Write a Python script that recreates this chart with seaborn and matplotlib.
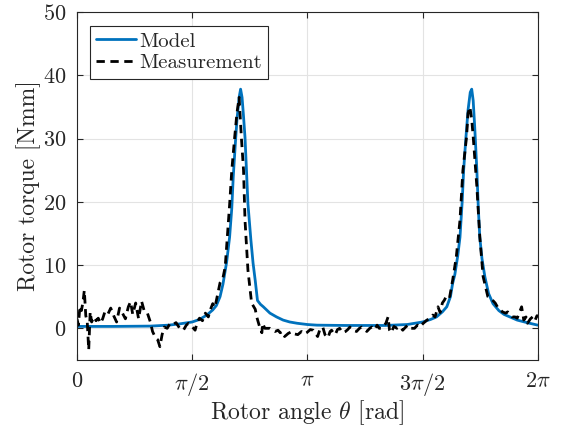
import numpy as np
import pandas as pd
import matplotlib
matplotlib.use("Agg")
import matplotlib.pyplot as plt
import seaborn as sns

# ── Model (smooth) ──
model_theta = [0.00, 0.50, 1.00, 1.25, 1.40, 1.57, 1.67, 1.77, 1.85, 1.90,
               1.95, 1.99, 2.04, 2.08, 2.11, 2.13, 2.16, 2.18, 2.21, 2.23,
               2.25, 2.27, 2.29, 2.31, 2.33, 2.37, 2.40, 2.43, 2.46, 2.50,
               2.54, 2.63, 2.72, 2.81, 2.90, 3.00, 3.14, 3.27, 3.66, 4.20,
               4.50, 4.71, 4.82, 4.90, 4.98, 5.04, 5.09, 5.12, 5.15, 5.19,
               5.22, 5.25, 5.27, 5.30, 5.33, 5.36, 5.38, 5.40, 5.42, 5.45,
               5.47, 5.49, 5.52, 5.56, 5.61, 5.67, 5.75, 5.82, 5.90, 6.00,
               6.10, 6.17, 6.28]
model_torque = [0.3, 0.3, 0.35, 0.5, 0.7, 1.0, 1.4, 2.1, 2.9, 3.6,
                5.0, 7.0, 10.5, 14.4, 19.0, 24.0, 29.5, 32.9, 36.5, 37.8,
                36.5, 33.5, 30.2, 25.0, 19.7, 14.0, 10.3, 7.5, 4.4, 3.8,
                3.4, 2.4, 1.8, 1.3, 1.0, 0.8, 0.6, 0.5, 0.45, 0.45,
                0.6, 1.0, 1.4, 1.8, 2.6, 3.4, 5.0, 7.1, 8.5, 11.5,
                14.4, 20.0, 25.0, 30.0, 34.5, 37.3, 37.8, 36.0, 32.0, 25.0,
                19.0, 14.4, 11.0, 8.1, 5.5, 3.9, 2.8, 2.2, 1.8, 1.3,
                1.0, 0.8, 0.5]

# ── Measurement (noisy) ──
meas_theta = [0.00, 0.02, 0.04, 0.06, 0.08, 0.10, 0.12, 0.14, 0.16, 0.18,
              0.20, 0.23, 0.26, 0.29, 0.32, 0.35, 0.38, 0.42, 0.46, 0.50,
              0.54, 0.58, 0.62, 0.66, 0.70, 0.73, 0.76, 0.80, 0.84, 0.88,
              0.92, 0.96, 1.00, 1.03, 1.07, 1.10, 1.13, 1.16, 1.19, 1.23,
              1.27, 1.31, 1.35, 1.40, 1.45, 1.49, 1.52, 1.56, 1.61, 1.64,
              1.67, 1.71, 1.75, 1.79, 1.82, 1.85, 1.88, 1.91, 1.95, 1.99,
              2.02, 2.05, 2.08, 2.11, 2.15, 2.18, 2.21, 2.24, 2.27, 2.29,
              2.33, 2.38, 2.43, 2.45, 2.49, 2.52, 2.53, 2.56, 2.60, 2.63,
              2.67, 2.70, 2.74, 2.77, 2.80, 2.83, 2.88, 2.93, 2.97, 3.01,
              3.06, 3.10, 3.13, 3.18, 3.22, 3.25, 3.28, 3.31, 3.35, 3.38,
              3.42, 3.45, 3.47, 3.50, 3.52, 3.55, 3.58, 3.62, 3.66, 3.69,
              3.72, 3.76, 3.81, 3.85, 3.88, 3.92, 3.95, 3.99, 4.02, 4.06,
              4.09, 4.12, 4.15, 4.19, 4.21, 4.24, 4.26, 4.28, 4.32, 4.36,
              4.40, 4.44, 4.48, 4.51, 4.55, 4.60, 4.64, 4.67, 4.72, 4.77,
              4.81, 4.85, 4.88, 4.92, 4.95, 4.98, 5.01, 5.04, 5.08, 5.12,
              5.17, 5.22, 5.26, 5.31, 5.33, 5.355, 5.38, 5.40, 5.45, 5.49,
              5.535, 5.60, 5.66, 5.70, 5.74, 5.80, 5.84, 5.87, 5.93, 5.97,
              6.00, 6.06, 6.09, 6.12, 6.14, 6.18, 6.21, 6.24, 6.27, 6.28]
meas_torque = [1.5, 0.5, 3.5, 2.8, 4.0, 6.0, 2.0, 1.0, -3.4, 2.6,
               1.0, 1.8, 1.2, 1.6, 0.8, 1.5, 2.6, 2.2, 3.2, 2.0,
               1.0, 3.2, 2.4, 1.5, 3.4, 4.2, 2.2, 4.0, 1.5, 4.3,
               2.6, 2.4, 1.0, -0.5, -1.5, -1.8, -2.9, -1.0, 0.2, 0.0,
               0.8, 0.6, 0.9, 0.0, -0.3, 0.5, 0.8, 0.4, -0.3, 1.0,
               1.6, 1.2, 2.4, 1.8, 3.0, 3.9, 3.3, 5.0, 7.2, 8.0,
               9.7, 14.5, 19.5, 25.0, 30.3, 34.0, 36.5, 30.3, 25.0, 17.1,
               9.2, 4.0, 3.0, 1.8, 0.2, -0.7, 0.8, 0.0, 0.0, 0.0,
               -0.3, -0.5, -0.3, -0.7, -0.5, -1.3, -0.8, -0.5, -0.9, -1.0,
               -0.5, -0.9, -0.7, -0.2, -0.3, -0.8, -1.3, -0.2, 0.2, -1.0,
               -1.5, -0.5, -0.3, -0.8, -1.0, -0.2, 0.0, -0.7, -0.5, -0.2,
               0.2, -0.3, -0.5, 0.0, 0.2, -0.2, -0.5, 0.0, 0.2, -0.2,
               0.5, 0.0, 0.0, 0.5, 0.8, 1.8, -0.3, -0.7, 0.3, 0.0,
               0.3, -0.3, 0.2, 0.5, 0.0, 0.0, 0.5, 0.2, 0.8, 1.3,
               1.6, 2.1, 1.8, 3.4, 2.5, 4.0, 4.5, 5.3, 5.0, 7.6,
               11.3, 17.1, 25.0, 30.3, 34.0, 35.0, 33.0, 30.3, 22.4, 14.5,
               8.2, 5.0, 4.5, 4.0, 3.2, 2.6, 2.4, 2.6, 1.8, 1.8,
               1.6, 3.4, 1.3, 1.8, 0.8, 1.5, 1.8, 1.2, 2.0, 1.8]

xtick_vals = [0, np.pi / 2, np.pi, 3 * np.pi / 2, 2 * np.pi]
xtick_labels = ["$0$", r"$\pi/2$", r"$\pi$", r"$3\pi/2$", r"$2\pi$"]
ytick_vals = [0, 10, 20, 30, 40, 50]

model_df = pd.DataFrame({"theta": model_theta, "torque": model_torque})
meas_df = pd.DataFrame({"theta": meas_theta, "torque": meas_torque})

sns.set_style("ticks")
plt.rcParams["font.family"] = ["cmr10"]
plt.rcParams["mathtext.fontset"] = "cm"
plt.rcParams["axes.formatter.use_mathtext"] = True

fig = plt.figure(figsize=(5.66, 4.28), dpi=100)
ax = fig.add_axes([0.136, 0.159, 0.8145, 0.813])

sns.lineplot(data=model_df, x="theta", y="torque", ax=ax, color="#0072BD",
             lw=2.0, label="Model")
sns.lineplot(data=meas_df, x="theta", y="torque", ax=ax, color="black",
             lw=2.0, dashes=False, label="Measurement")
ax.lines[1].set_dashes((3, 2))

ax.set_xlim(0, 2 * np.pi)
ax.set_ylim(-5, 50)
ax.set_xticks(xtick_vals)
ax.set_xticklabels(xtick_labels)
ax.set_yticks(ytick_vals)
ax.grid(True, color="#e3e3e3", lw=0.8)
ax.set_axisbelow(True)

for side in ["top", "right", "left", "bottom"]:
    ax.spines[side].set_visible(True)
    ax.spines[side].set_color("#262626")
    ax.spines[side].set_linewidth(0.8)
ax.tick_params(direction="in", top=True, right=True, length=4,
               color="#262626", labelsize=16, labelcolor="#262626", pad=8)

ax.set_xlabel(r"Rotor angle $\theta$ [rad]", fontsize=17, color="#262626",
              labelpad=0)
ax.set_ylabel("Rotor torque [Nmm]", fontsize=17, color="#262626",
              labelpad=1)

leg = ax.legend(loc="upper left", fontsize=15, frameon=True, fancybox=False,
                handlelength=1.9, handletextpad=0.15, borderpad=0.3,
                labelspacing=0.15, borderaxespad=0,
                bbox_to_anchor=(0.028, 0.96))
leg.get_frame().set_edgecolor("#262626")
leg.get_frame().set_linewidth(0.8)
leg.get_frame().set_alpha(1)

fig.savefig("out.png", dpi=100)
plt.close(fig)
